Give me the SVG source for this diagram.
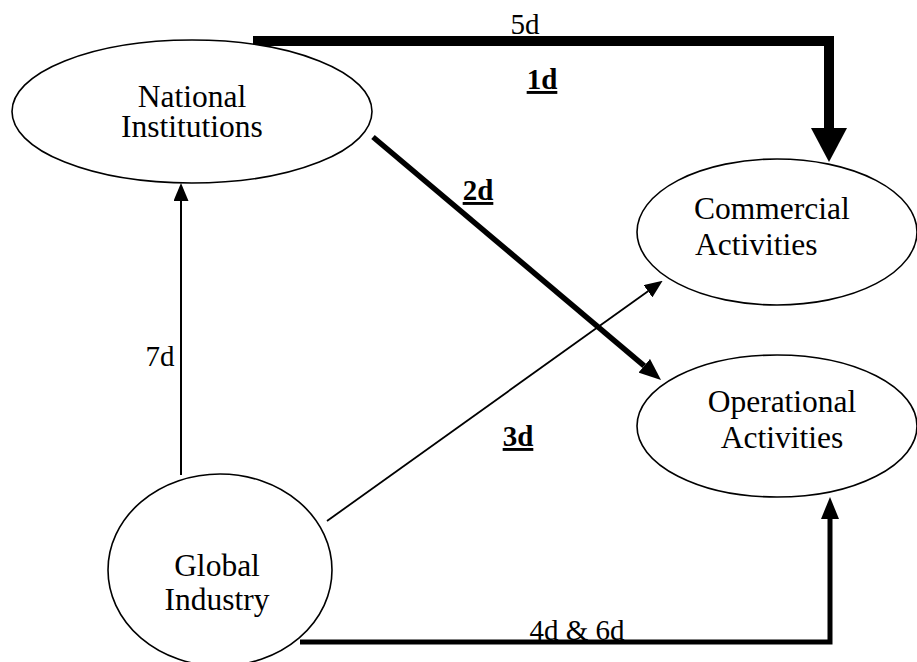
<svg xmlns="http://www.w3.org/2000/svg" width="917" height="662" viewBox="0 0 917 662">
<style>
.node{fill:#fff;stroke:#000;stroke-width:1.6}
.lbl{font-family:"Liberation Serif","Times New Roman",serif;font-size:31.5px;fill:#000}
.elbl{font-family:"Liberation Serif","Times New Roman",serif;font-size:29px;fill:#000}
.bold{font-weight:bold;text-decoration:underline}
.c{fill:none;stroke:#000}
</style>
<defs>
<marker id="aBig" markerUnits="userSpaceOnUse" markerWidth="34" markerHeight="36" viewBox="0 0 34 36" refX="0" refY="18" orient="auto"><path d="M0,0 L34,18 L0,36 z" fill="#000"/></marker>
<marker id="aMed" markerUnits="userSpaceOnUse" markerWidth="22" markerHeight="18" viewBox="0 0 22 18" refX="0" refY="9" orient="auto"><path d="M0,0 L22,9 L0,18 z" fill="#000"/></marker>
<marker id="aSm" markerUnits="userSpaceOnUse" markerWidth="18" markerHeight="15" viewBox="0 0 18 15" refX="0" refY="7.5" orient="auto"><path d="M0,0 L18,7.5 L0,15 z" fill="#000"/></marker>
</defs>
<g id="connectors">
<path class="c" d="M253,41 H829 V128" stroke-width="10" stroke-linejoin="miter" marker-end="url(#aBig)"/>
<path class="c" d="M373,137 L644.2,365.8" stroke-width="5.5" marker-end="url(#aMed)"/>
<path class="c" d="M327,521 L648,291.3" stroke-width="1.8" marker-end="url(#aSm)"/>
<path class="c" d="M181,475 V201" stroke-width="2" marker-end="url(#aSm)"/>
<path class="c" d="M300,642 H830 V519" stroke-width="5" stroke-linejoin="miter" marker-end="url(#aMed)"/>
<text class="elbl" x="525" y="34" text-anchor="middle">5d</text>
<text class="elbl bold" x="542" y="89" text-anchor="middle">1d</text>
<text class="elbl bold" x="478" y="200" text-anchor="middle">2d</text>
<text class="elbl bold" x="518" y="446" text-anchor="middle">3d</text>
<text class="elbl" x="160" y="366" text-anchor="middle">7d</text>
<text class="elbl" x="577" y="640" text-anchor="middle">4d &amp; 6d</text>
</g>
<g id="national">
<ellipse class="node" cx="192" cy="111.5" rx="180" ry="71.5"/>
<text class="lbl" x="192" y="107" text-anchor="middle">National</text>
<text class="lbl" x="192" y="137" text-anchor="middle">Institutions</text>
</g>
<g id="commercial">
<ellipse class="node" cx="777" cy="232" rx="140" ry="73"/>
<text class="lbl" x="694" y="219">Commercial</text>
<text class="lbl" x="695" y="255">Activities</text>
</g>
<g id="operational">
<ellipse class="node" cx="777" cy="426" rx="140" ry="71"/>
<text class="lbl" x="782" y="412" text-anchor="middle">Operational</text>
<text class="lbl" x="782" y="448" text-anchor="middle">Activities</text>
</g>
<g id="global">
<ellipse class="node" cx="220" cy="570" rx="112" ry="96"/>
<text class="lbl" x="217" y="576" text-anchor="middle">Global</text>
<text class="lbl" x="217" y="610" text-anchor="middle">Industry</text>
</g>
</svg>
